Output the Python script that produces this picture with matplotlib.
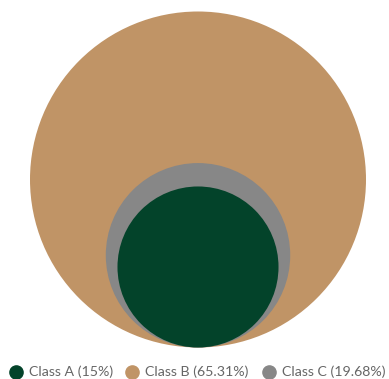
import matplotlib.pyplot as plt
from matplotlib.patches import Circle
import numpy as np

# Nested circle chart: circle area proportional to value, bottom aligned
labels = ['Class A', 'Class B', 'Class C']
values = [15, 65.31, 19.68]
colors = ['#03432A', '#C09466', '#878787']

W, H = 389, 379
fig = plt.figure(figsize=(W / 100, H / 100), dpi=100)
ax = fig.add_axes([0, 0, 1, 1])
ax.set_xlim(0, W)
ax.set_ylim(H, 0)
ax.set_aspect('equal')
ax.axis('off')

max_r = 168
cx, bottom = 198, 347.5
scale = max_r / np.sqrt(max(values))

# draw largest first so smaller ones sit on top
order = np.argsort(values)[::-1]
for i in order:
    r = scale * np.sqrt(values[i])
    ax.add_patch(Circle((cx, bottom - r), r, color=colors[i], lw=0))

# legend row along the bottom, laid out by hand
legend_x = [15.7, 132, 269]
legend_y = 371.5
for x, l, v, c in zip(legend_x, labels, values, colors):
    ax.plot(x, legend_y, 'o', ms=9.5, color=c, mec=c, clip_on=False)
    ax.text(x + 13, legend_y, f"{l} ({v:g}%)", family='Lato', size=10.2,
            color='#666666', va='center', ha='left')

fig.savefig('out.png', dpi=100)
